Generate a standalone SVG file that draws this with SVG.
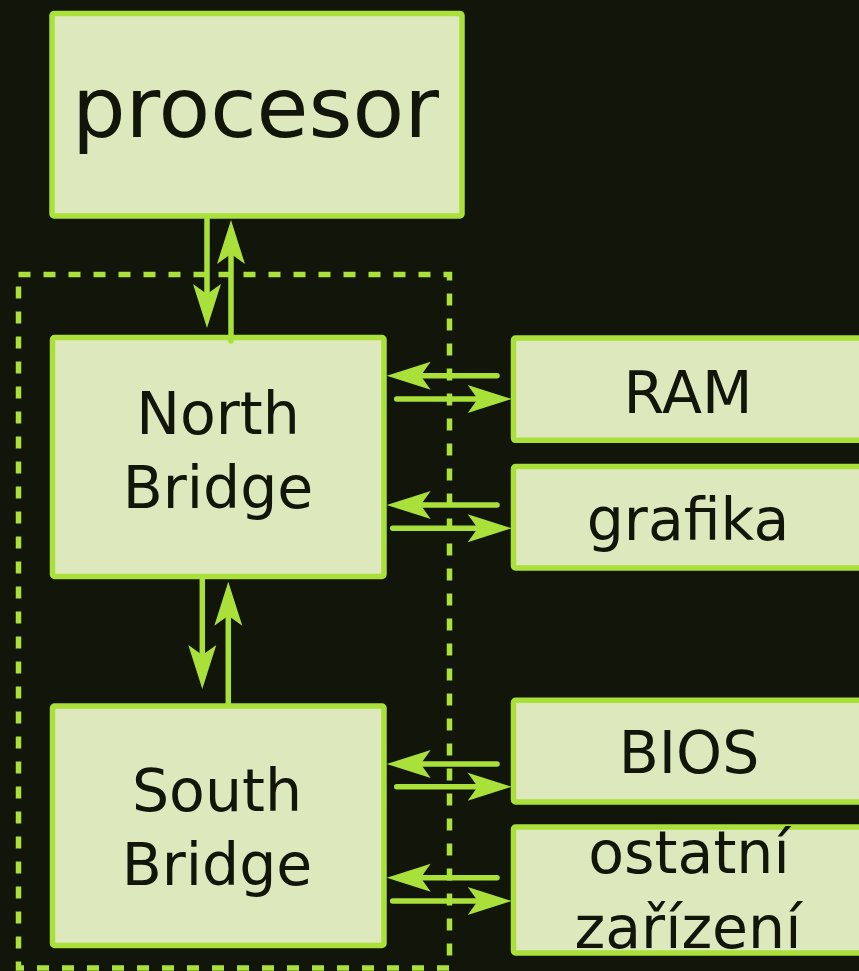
<svg xmlns="http://www.w3.org/2000/svg" width="859" height="971" viewBox="0 0 859 971">
<style>
.bg{fill:#11150a}
.box{fill:#dde9bd;stroke:#a9e03a;stroke-width:5.5}
.dash{fill:none;stroke:#a9e03a;stroke-width:5.5;stroke-dasharray:12 13}
.con{fill:none;stroke:#a9e03a;stroke-width:5.5;stroke-linecap:round;marker-end:url(#ah)}
.ahp{fill:#a9e03a}
text{font-family:"DejaVu Sans","Liberation Sans",sans-serif;fill:#11150a;text-anchor:middle}
.big{font-size:84.5px}
.lbl{font-size:58.5px}
</style>
<defs>
<marker id="ah" markerUnits="userSpaceOnUse" markerWidth="60" markerHeight="40" refX="0" refY="0" orient="auto" overflow="visible">
<path class="ahp" d="M34,0 L-10,-14 L0,0 L-10,14 Z"/>
</marker>
</defs>
<rect class="bg" x="0" y="0" width="859" height="971"/>
<rect class="dash" x="18.5" y="274.5" width="431" height="693.5"/>
<g id="procesor">
<rect class="box" x="52" y="13.5" width="410" height="202.5" rx="2"/>
<text class="big" x="255.5" y="137">procesor</text>
</g>
<g id="northbridge">
<rect class="box" x="52.5" y="337.5" width="331.5" height="239" rx="2"/>
<text class="lbl" x="218" y="434">North</text>
<text class="lbl" x="218" y="508">Bridge</text>
</g>
<g id="southbridge">
<rect class="box" x="52.5" y="706" width="331.5" height="239.5" rx="2"/>
<text class="lbl" x="217" y="811">South</text>
<text class="lbl" x="217" y="885">Bridge</text>
</g>
<g id="ram">
<rect class="box" x="513.5" y="338" width="400" height="102.3" rx="2"/>
<text class="lbl" x="688" y="412.5">RAM</text>
</g>
<g id="grafika">
<rect class="box" x="513.5" y="466.5" width="400" height="101.5" rx="2"/>
<text class="lbl" x="688" y="540">grafika</text>
</g>
<g id="bios">
<rect class="box" x="513.5" y="700.3" width="400" height="101.7" rx="2"/>
<text class="lbl" x="689" y="773.3">BIOS</text>
</g>
<g id="ostatni">
<rect class="box" x="513.5" y="827" width="400" height="126" rx="2"/>
<text class="lbl" x="689" y="873.3">ostatní</text>
<text class="lbl" x="688" y="948.3">zařízení</text>
</g>
<g id="connectors">
<line class="con" x1="207" y1="218" x2="207" y2="294"/>
<line class="con" x1="231" y1="341" x2="231" y2="254"/>
<line class="con" x1="202.3" y1="579" x2="202.3" y2="655"/>
<line class="con" x1="228.3" y1="704" x2="228.3" y2="615.7"/>
<line class="con" x1="497" y1="375.7" x2="420.7" y2="375.7"/>
<line class="con" x1="396.7" y1="399" x2="477.7" y2="399"/>
<line class="con" x1="497" y1="505" x2="420.7" y2="505"/>
<line class="con" x1="392.7" y1="528.3" x2="477.7" y2="528.3"/>
<line class="con" x1="497" y1="764" x2="420.7" y2="764"/>
<line class="con" x1="396.7" y1="786.7" x2="477.7" y2="786.7"/>
<line class="con" x1="497" y1="877.7" x2="420.7" y2="877.7"/>
<line class="con" x1="392.7" y1="901" x2="477.7" y2="901"/>
</g>
</svg>
